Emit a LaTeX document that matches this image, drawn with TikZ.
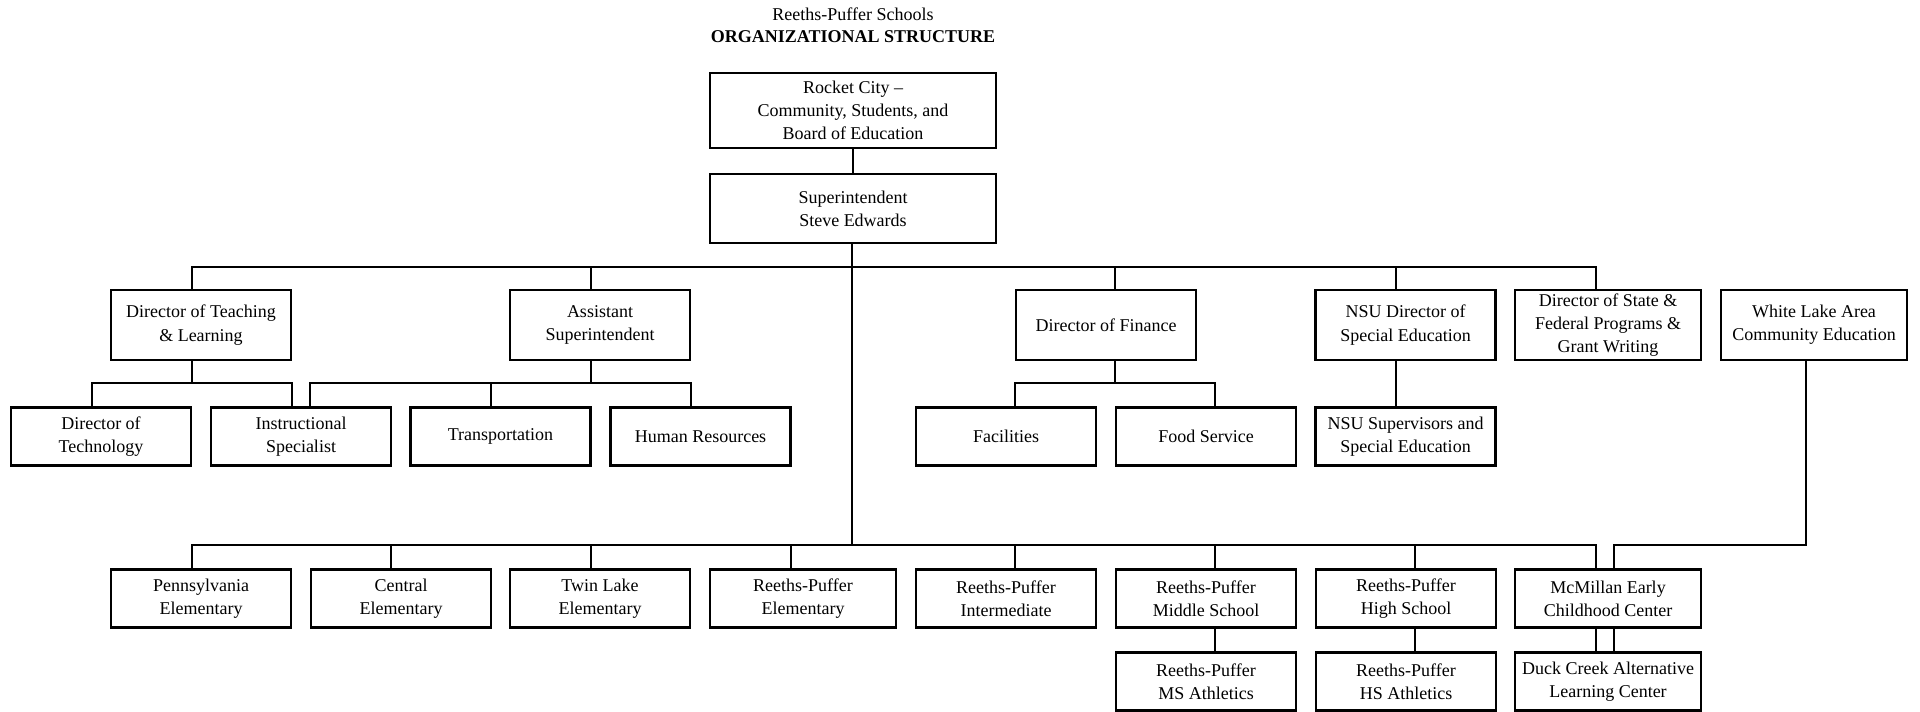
\documentclass[tikz,border=0pt]{standalone}
\usepackage{fontspec}
\setmainfont{Liberation Serif}
\usetikzlibrary{positioning}

\begin{document}
\begin{tikzpicture}[x=1pt, y=-1pt,
    box/.style={draw, line width=2.6pt, minimum width=180pt, minimum height=58.5pt,
      inner sep=0pt, align=center, font=\fontsize{18}{23.3}\selectfont},
    tall/.style={minimum height=70pt},
    wide/.style={minimum width=186pt},
    link/.style={line width=2.3pt}]
  \useasboundingbox (0,0) rectangle (1920,712);

  \node[font=\fontsize{18}{22}\selectfont] (school) at (853,14) {Reeths-Puffer Schools};
  \node[font=\fontsize{18}{22}\selectfont\bfseries] (orgtitle) at (853,37) {ORGANIZATIONAL STRUCTURE};

  \node[box, minimum width=286pt, minimum height=75pt] (board) at (853,110.5) {Rocket City --\\Community, Students, and\\Board of Education};
  \node[box, minimum width=286pt, minimum height=69pt] (super) at (853,208.5) {Superintendent\\Steve Edwards};

  \node[box, tall] (tl) at (201,325) {Director of Teaching\\\& Learning};
  \node[box, tall] (asst) at (600,325) {Assistant\\Superintendent};
  \node[box, tall] (fin) at (1106,325) {Director of Finance};
  \node[box, tall] (nsu) at (1405.5,325) {NSU Director of\\Special Education};
  \node[box, tall, wide] (state) at (1608,325) {Director of State \&\\Federal Programs \&\\Grant Writing};
  \node[box, tall, wide] (wl) at (1814,325) {White Lake Area\\Community Education};

  \node[box] (tech) at (101,436.5) {Director of\\Technology};
  \node[box] (instr) at (301,436.5) {Instructional\\Specialist};
  \node[box] (transp) at (500.5,436.5) {Transportation};
  \node[box] (hr) at (700.5,436.5) {Human Resources};
  \node[box] (fac) at (1006,436.5) {Facilities};
  \node[box] (food) at (1206,436.5) {Food Service};
  \node[box] (nsusup) at (1405.5,436.5) {NSU Supervisors and\\Special Education};

  \node[box] (penn) at (201,598.5) {Pennsylvania\\Elementary};
  \node[box] (central) at (401,598.5) {Central\\Elementary};
  \node[box] (twin) at (600,598.5) {Twin Lake\\Elementary};
  \node[box, wide] (rpelem) at (803,598.5) {Reeths-Puffer\\Elementary};
  \node[box] (inter) at (1006,598.5) {Reeths-Puffer\\Intermediate};
  \node[box] (ms) at (1206,598.5) {Reeths-Puffer\\Middle School};
  \node[box] (hs) at (1406,598.5) {Reeths-Puffer\\High School};
  \node[box, wide] (mcm) at (1608,598.5) {McMillan Early\\Childhood Center};

  \node[box] (msath) at (1206,681.5) {Reeths-Puffer\\MS Athletics};
  \node[box] (hsath) at (1406,681.5) {Reeths-Puffer\\HS Athletics};
  \node[box, wide] (duck) at (1608,681.5) {Duck Creek Alternative\\Learning Center};

  \coordinate (topbus) at (853,267);
  \coordinate (subbus) at (853,383);
  \coordinate (lowbus) at (853,545);

  \draw[link] (board.south) -- (super.north);
  \draw[link] ([xshift=-1]super.south) -- ([xshift=-1]super.south |- lowbus);
  \draw[link] ([xshift=-9]tl.north) |- ([xshift=-12]state.north |- topbus) -- ([xshift=-12]state.north);
  \foreach \n/\s in {asst/-9, fin/9, nsu/-9.5}
    \draw[link] ([xshift=\s]\n.north) -- ([xshift=\s]\n.north |- topbus);

  \draw[link] ([xshift=-9]tl.south) -- ([xshift=-9]tl.south |- subbus);
  \draw[link] ([xshift=-9]tech.north) |- ([xshift=-9]instr.north |- subbus) -- ([xshift=-9]instr.north);
  \draw[link] ([xshift=-9]asst.south) -- ([xshift=-9]asst.south |- subbus);
  \draw[link] ([xshift=9]instr.north) |- ([xshift=-9.5]hr.north |- subbus) -- ([xshift=-9.5]hr.north);
  \draw[link] ([xshift=-9.5]transp.north) -- ([xshift=-9.5]transp.north |- subbus);
  \draw[link] ([xshift=9]fin.south) -- ([xshift=9]fin.south |- subbus);
  \draw[link] ([xshift=9]fac.north) |- ([xshift=9]food.north |- subbus) -- ([xshift=9]food.north);
  \draw[link] ([xshift=-9.5]nsu.south) -- ([xshift=-9.5]nsusup.north);

  \draw[link] ([xshift=-9]penn.north) |- ([xshift=-12]mcm.north |- lowbus) -- ([xshift=-12]mcm.north);
  \foreach \n/\s in {central/-10, twin/-9, rpelem/-12, inter/9, ms/9, hs/9}
    \draw[link] ([xshift=\s]\n.north) -- ([xshift=\s]\n.north |- lowbus);
  \draw[link] ([xshift=9]ms.south) -- ([xshift=9]msath.north);
  \draw[link] ([xshift=9]hs.south) -- ([xshift=9]hsath.north);
  \draw[link] ([xshift=-8]wl.south) |- ([xshift=6]mcm.north |- lowbus) -- ([xshift=6]mcm.north);
  \foreach \s in {-12, 6}
    \draw[link] ([xshift=\s]mcm.south) -- ([xshift=\s]duck.north);
\end{tikzpicture}
\end{document}
